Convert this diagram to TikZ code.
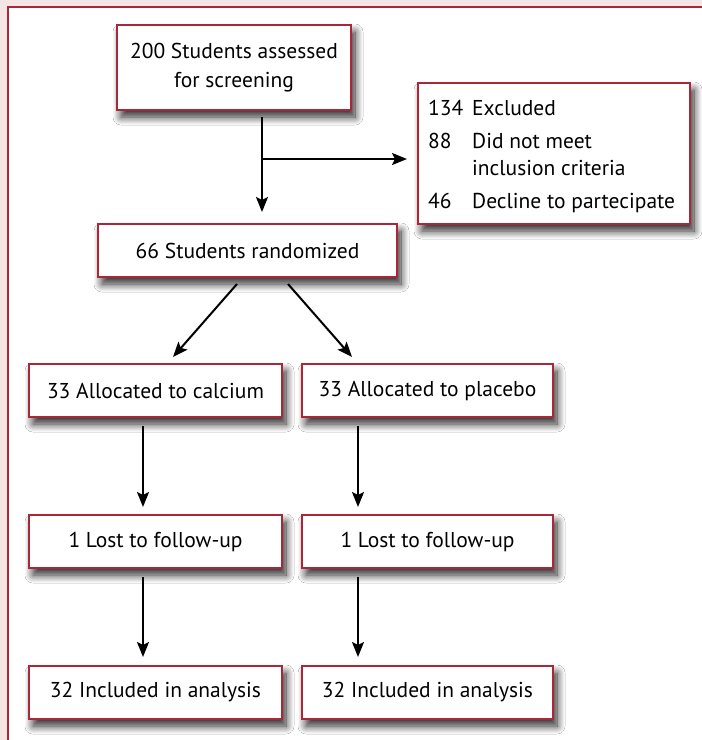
\documentclass[tikz,border=0pt]{standalone}
\usepackage{fontspec}
\setmainfont{PT Sans}
\usetikzlibrary{arrows.meta,calc,shadows.blur}
\definecolor{frame}{HTML}{A8283A}
\definecolor{pinkbg}{HTML}{F6E5E5}
\tikzset{
  box/.style={draw=frame, line width=2pt, fill=white, rectangle, inner sep=0pt,
    blur shadow={shadow xshift=4pt, shadow yshift=-7pt, shadow blur radius=8pt, shadow opacity=85, shadow blur steps=12},
    font=\fontsize{21.5}{29}\selectfont, align=center},
  txt/.style={inner sep=0pt, anchor=base west, font=\fontsize{21.5}{29}\selectfont},
  arr/.style={line width=2pt, -{Stealth[length=15pt,width=12pt,inset=3pt]}}
}
\begin{document}
\begin{tikzpicture}[x=1pt,y=-1pt]
\useasboundingbox (0,0) rectangle (702,740);
\fill[pinkbg] (0,0) rectangle (702,740);
\draw[frame, line width=2pt, fill=white] (8,7) rectangle (730,770);

\node[box, minimum width=234pt, minimum height=85pt] (b1) at (234,67.5) {200 Students assessed\\for screening};
\node[box, minimum width=272pt, minimum height=141pt] (excl) at (554,153.5) {};
\node[txt] (e1n) at (428,115) {134};
\node[txt] (e1t) at (472,115) {Excluded};
\node[txt] (e2n) at (428,148) {88};
\node[txt] (e2t) at (472,148) {Did not meet};
\node[txt] (e2u) at (472,175) {inclusion criteria};
\node[txt] (e3n) at (428,208) {46};
\node[txt] (e3t) at (472,208) {Decline to partecipate};

\node[box, minimum width=299pt, minimum height=53pt] (rand) at (247.5,250.5) {66 Students randomized};
\node[box, minimum width=253pt, minimum height=53pt] (calc) at (155.5,390.5) {33 Allocated to calcium};
\node[box, minimum width=251pt, minimum height=53pt] (plac) at (427.5,390.5) {33 Allocated to placebo};
\node[box, minimum width=253pt, minimum height=53pt] (lost1) at (155.5,541.5) {1 Lost to follow-up};
\node[box, minimum width=251pt, minimum height=53pt] (lost2) at (427.5,541.5) {1 Lost to follow-up};
\node[box, minimum width=253pt, minimum height=53pt] (inc1) at (155.5,692.5) {32 Included in analysis};
\node[box, minimum width=251pt, minimum height=53pt] (inc2) at (427.5,692.5) {32 Included in analysis};

\coordinate (br) at (262,159);
\draw[line width=2pt] ([xshift=28pt,yshift=-6pt]b1.south) -- (br);
\draw[arr] (br) -- ([yshift=11pt]rand.north -| br);
\draw[arr, shorten >=10pt] (br) -- (excl.west |- br);

\draw[arr] ([xshift=-10.5pt,yshift=-6pt]rand.south) -- ([xshift=17.5pt,yshift=6pt]calc.north);
\draw[arr] ([xshift=40.5pt,yshift=-6pt]rand.south) -- ([xshift=-75.5pt,yshift=6pt]plac.north);

\draw[arr] ([xshift=-12.5pt,yshift=-8pt]calc.south) -- ([xshift=-12.5pt,yshift=7pt]lost1.north);
\draw[arr] ([xshift=-69.5pt,yshift=-8pt]plac.south) -- ([xshift=-69.5pt,yshift=7pt]lost2.north);
\draw[arr] ([xshift=-12.5pt,yshift=-8pt]lost1.south) -- ([xshift=-12.5pt,yshift=8pt]inc1.north);
\draw[arr] ([xshift=-69.5pt,yshift=-8pt]lost2.south) -- ([xshift=-69.5pt,yshift=8pt]inc2.north);
\end{tikzpicture}
\end{document}
